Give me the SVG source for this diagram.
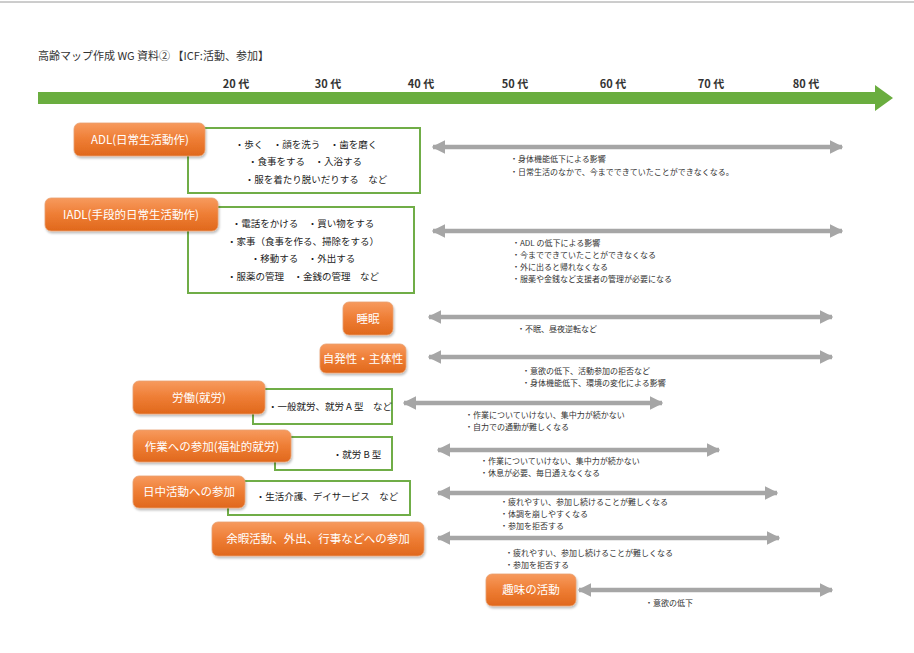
<svg xmlns="http://www.w3.org/2000/svg" width="914" height="653" viewBox="0 0 914 653">
<defs>
<linearGradient id="og" x1="0" y1="0" x2="0" y2="1">
<stop offset="0" stop-color="#f79a5e"/>
<stop offset="0.5" stop-color="#ee7d34"/>
<stop offset="1" stop-color="#e0681c"/>
</linearGradient>
<filter id="sh" x="-10%" y="-20%" width="120%" height="150%">
<feDropShadow dx="1" dy="2" stdDeviation="1.2" flood-color="#000" flood-opacity="0.25"/>
</filter>
<marker id="ah" viewBox="0 0 10 10" refX="9" refY="5" markerWidth="3" markerHeight="3" orient="auto-start-reverse" markerUnits="strokeWidth">
<path d="M0,0 L10,5 L0,10 z" fill="#a6a6a6"/>
</marker>
<style>
text{font-family:"Noto Sans CJK JP","Noto Sans",sans-serif;}
.node{fill:url(#og);stroke:#e9a06f;stroke-width:0.8;filter:url(#sh);}
.nt{fill:#ffffff;font-size:11.5px;text-anchor:middle;}
.gb{fill:#ffffff;stroke:#70ad47;stroke-width:2;}
.bt{fill:#222;font-size:9.5px;text-anchor:middle;}
.rt{fill:#333;font-size:8px;}
.age{fill:#333;font-size:11px;font-weight:bold;text-anchor:middle;}
.ga{stroke:#a6a6a6;stroke-width:4.5;fill:none;marker-start:url(#ah);marker-end:url(#ah);}
</style>
</defs>
<rect width="914" height="653" fill="#ffffff"/>
<line x1="0" y1="2" x2="914" y2="2" stroke="#9a9a9a" stroke-width="1"/>
<text x="38" y="60" font-size="11" fill="#333">高齢マップ作成 WG 資料② 【ICF:活動、参加】</text>
<g id="axis">
<path d="M38,92 L875,92 L875,85 L893,98 L875,111 L875,104 L38,104 z" fill="#6aad3f"/>
<text class="age" x="236" y="88">20 代</text>
<text class="age" x="328" y="88">30 代</text>
<text class="age" x="421" y="88">40 代</text>
<text class="age" x="515" y="88">50 代</text>
<text class="age" x="613" y="88">60 代</text>
<text class="age" x="711" y="88">70 代</text>
<text class="age" x="806" y="88">80 代</text>
</g>
<g id="connectors">
<line class="ga" x1="433" y1="147" x2="842" y2="147"/>
<line class="ga" x1="433" y1="231" x2="842" y2="231"/>
<line class="ga" x1="429" y1="317" x2="832" y2="317"/>
<line class="ga" x1="429" y1="357" x2="832" y2="357"/>
<line class="ga" x1="404" y1="403" x2="662" y2="403"/>
<line class="ga" x1="438" y1="450" x2="719" y2="450"/>
<line class="ga" x1="438" y1="493" x2="777" y2="493"/>
<line class="ga" x1="438" y1="538" x2="779" y2="538"/>
<line class="ga" x1="579" y1="590" x2="832" y2="590"/>
</g>
<g id="adl">
<rect class="gb" x="188" y="128" width="232" height="65"/>
<rect class="node" x="74" y="123" width="131" height="33" rx="6"/>
<text class="nt" x="140" y="144">ADL(日常生活動作)</text>
<text class="bt" x="306" y="148">・歩く　・顔を洗う　・歯を磨く</text>
<text class="bt" x="305" y="165">・食事をする　・入浴する</text>
<text class="bt" x="316" y="183">・服を着たり脱いだりする　など</text>
<text class="rt" x="510" y="162">・身体機能低下による影響</text>
<text class="rt" x="510" y="175">・日常生活のなかで、今までできていたことができなくなる。</text>
</g>
<g id="iadl">
<rect class="gb" x="188" y="207" width="226" height="86"/>
<rect class="node" x="45" y="198" width="173" height="33" rx="6"/>
<text class="nt" x="131" y="219">IADL(手段的日常生活動作)</text>
<text class="bt" x="303" y="227">・電話をかける　・買い物をする</text>
<text class="bt" x="303" y="245">・家事（食事を作る、掃除をする）</text>
<text class="bt" x="303" y="262">・移動する　・外出する</text>
<text class="bt" x="303" y="280">・服薬の管理　・金銭の管理　など</text>
<text class="rt" x="512" y="246">・ADL の低下による影響</text>
<text class="rt" x="512" y="258">・今までできていたことができなくなる</text>
<text class="rt" x="512" y="270">・外に出ると帰れなくなる</text>
<text class="rt" x="512" y="282">・服薬や金銭など支援者の管理が必要になる</text>
</g>
<g id="sleep">
<rect class="node" x="343" y="302" width="50" height="33" rx="6"/>
<text class="nt" x="368" y="323">睡眠</text>
<text class="rt" x="517" y="332">・不眠、昼夜逆転など</text>
</g>
<g id="autonomy">
<rect class="node" x="320" y="344" width="86" height="29" rx="6"/>
<text class="nt" x="363" y="363">自発性・主体性</text>
<text class="rt" x="522" y="374">・意欲の低下、活動参加の拒否など</text>
<text class="rt" x="522" y="386">・身体機能低下、環境の変化による影響</text>
</g>
<g id="work">
<rect class="gb" x="253" y="389" width="139" height="35"/>
<rect class="node" x="133" y="381" width="132" height="33" rx="6"/>
<text class="nt" x="199" y="402">労働(就労)</text>
<text class="bt" x="330" y="410">・一般就労、就労 A 型　など</text>
<text class="rt" x="465" y="418">・作業についていけない、集中力が続かない</text>
<text class="rt" x="465" y="430">・自力での通勤が難しくなる</text>
</g>
<g id="welfare-work">
<rect class="gb" x="275" y="437" width="117" height="33"/>
<rect class="node" x="133" y="430" width="158" height="32" rx="6"/>
<text class="nt" x="212" y="451">作業への参加(福祉的就労)</text>
<text class="bt" x="357" y="458">・就労 B 型</text>
<text class="rt" x="480" y="464">・作業についていけない、集中力が続かない</text>
<text class="rt" x="480" y="476">・休息が必要、毎日通えなくなる</text>
</g>
<g id="day-activity">
<rect class="gb" x="228" y="481" width="182" height="34"/>
<rect class="node" x="133" y="476" width="112" height="32" rx="6"/>
<text class="nt" x="189" y="496">日中活動への参加</text>
<text class="bt" x="327" y="500">・生活介護、デイサービス　など</text>
<text class="rt" x="500" y="505">・疲れやすい、参加し続けることが難しくなる</text>
<text class="rt" x="500" y="517">・体調を崩しやすくなる</text>
<text class="rt" x="500" y="529">・参加を拒否する</text>
</g>
<g id="leisure">
<rect class="node" x="212" y="522" width="212" height="34" rx="6"/>
<text class="nt" x="318" y="543">余暇活動、外出、行事などへの参加</text>
<text class="rt" x="505" y="556">・疲れやすい、参加し続けることが難しくなる</text>
<text class="rt" x="505" y="568">・参加を拒否する</text>
</g>
<g id="hobby">
<rect class="node" x="486" y="574" width="90" height="32" rx="6"/>
<text class="nt" x="531" y="594">趣味の活動</text>
<text class="rt" x="645" y="606">・意欲の低下</text>
</g>
</svg>
